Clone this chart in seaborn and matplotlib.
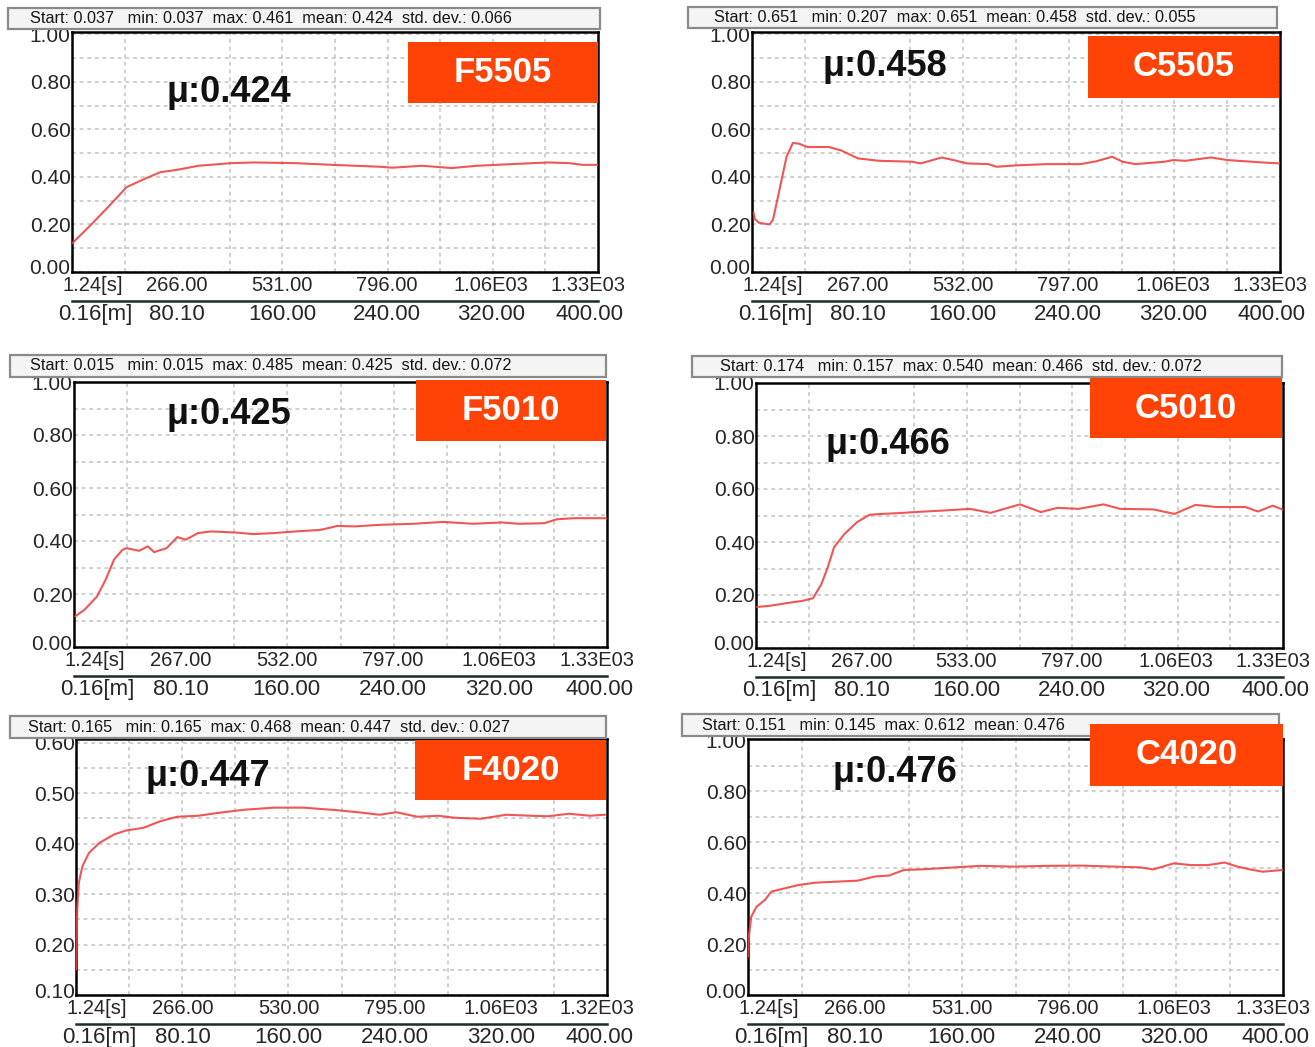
import numpy as np
import pandas as pd
import matplotlib
matplotlib.use("Agg")
import matplotlib.pyplot as plt
import seaborn as sns
from matplotlib.patches import Rectangle
from matplotlib.transforms import ScaledTranslation

# ---- friction coefficient traces: time [s] and COF ----
f5505_t = [0, 47, 95, 138, 181, 223, 266, 319, 402, 458, 565, 671, 778, 810, 885,
           960, 1024, 1098, 1205, 1258, 1290, 1330]
f5505_mu = [0.12, 0.197, 0.28, 0.357, 0.39, 0.42, 0.43, 0.447, 0.458, 0.461, 0.458,
            0.45, 0.443, 0.439, 0.447, 0.4375, 0.447, 0.453, 0.461, 0.458, 0.451, 0.451]

c5505_t = [4, 7, 18, 44, 53, 71, 87, 103, 118, 140, 193, 224, 267, 320, 404, 425, 478,
           510, 542, 595, 616, 669, 743, 828, 870, 907, 934, 965, 1039, 1061, 1092,
           1156, 1198, 1251, 1294, 1330]
c5505_mu = [0.25, 0.223, 0.207, 0.2, 0.22, 0.36, 0.485, 0.543, 0.54, 0.526, 0.526,
            0.512, 0.478, 0.468, 0.464, 0.457, 0.482, 0.47, 0.457, 0.454, 0.443, 0.449,
            0.454, 0.454, 0.467, 0.485, 0.464, 0.454, 0.464, 0.471, 0.468, 0.482, 0.471,
            0.465, 0.46, 0.457]

f5010_t = [3, 26, 57, 79, 100, 121, 131, 163, 184, 200, 231, 258, 279, 310, 342, 405,
           447, 500, 552, 615, 658, 700, 763, 847, 921, 995, 1068, 1110, 1173, 1205,
           1247, 1330]
f5010_mu = [0.116, 0.14, 0.19, 0.254, 0.33, 0.367, 0.373, 0.363, 0.38, 0.358, 0.373,
            0.415, 0.405, 0.43, 0.436, 0.432, 0.426, 0.43, 0.436, 0.442, 0.457, 0.455,
            0.461, 0.465, 0.472, 0.465, 0.47, 0.465, 0.467, 0.482, 0.486, 0.486]

c5010_t = [2, 34, 76, 118, 144, 165, 181, 197, 223, 255, 287, 318, 360, 413, 476, 540,
           592, 666, 719, 761, 814, 877, 919, 1003, 1056, 1109, 1161, 1235, 1267, 1304,
           1330]
c5010_mu = [0.155, 0.159, 0.169, 0.178, 0.188, 0.241, 0.304, 0.38, 0.43, 0.475, 0.503,
            0.506, 0.509, 0.514, 0.519, 0.525, 0.51, 0.542, 0.513, 0.529, 0.525, 0.542,
            0.525, 0.523, 0.506, 0.54, 0.532, 0.532, 0.515, 0.537, 0.522]

f4020_t = [0, 3, 7, 16, 32, 58, 95, 126, 168, 210, 252, 305, 358, 421, 494, 568, 652,
           715, 757, 799, 852, 904, 946, 1010, 1073, 1136, 1178, 1230, 1283, 1320]
f4020_mu = [0.15, 0.269, 0.322, 0.355, 0.381, 0.401, 0.418, 0.426, 0.431, 0.444, 0.453,
            0.455, 0.461, 0.467, 0.471, 0.471, 0.466, 0.461, 0.457, 0.462, 0.453, 0.455,
            0.451, 0.449, 0.457, 0.455, 0.454, 0.459, 0.455, 0.457]

c4020_t = [0, 2, 8, 21, 42, 58, 84, 126, 168, 220, 273, 315, 351, 388, 430, 514, 577,
           661, 745, 829, 913, 976, 1007, 1059, 1101, 1143, 1185, 1217, 1248, 1280, 1330]
c4020_mu = [0.15, 0.228, 0.307, 0.346, 0.373, 0.406, 0.416, 0.432, 0.441, 0.445, 0.449,
            0.465, 0.469, 0.491, 0.493, 0.501, 0.507, 0.504, 0.507, 0.508, 0.504, 0.501,
            0.493, 0.517, 0.51, 0.51, 0.52, 0.504, 0.493, 0.484, 0.491]

# ---- labels ----
sample_names = ["F5505", "C5505", "F5010", "C5010", "F4020", "C4020"]
mean_labels = ["μ:0.424", "μ:0.458", "μ:0.425", "μ:0.466", "μ:0.447", "μ:0.476"]
stat_lines = [
    "Start: 0.037   min: 0.037  max: 0.461  mean: 0.424  std. dev.: 0.066",
    "Start: 0.651   min: 0.207  max: 0.651  mean: 0.458  std. dev.: 0.055",
    "Start: 0.015   min: 0.015  max: 0.485  mean: 0.425  std. dev.: 0.072",
    "Start: 0.174   min: 0.157  max: 0.540  mean: 0.466  std. dev.: 0.072",
    "Start: 0.165   min: 0.165  max: 0.468  mean: 0.447  std. dev.: 0.027",
    "Start: 0.151   min: 0.145  max: 0.612  mean: 0.476",
]
time_ticks = [1.24, 266, 531, 796, 1060, 1330]
time_labels = [
    ["1.24[s]", "266.00", "531.00", "796.00", "1.06E03", "1.33E03"],
    ["1.24[s]", "267.00", "532.00", "797.00", "1.06E03", "1.33E03"],
    ["1.24[s]", "267.00", "532.00", "797.00", "1.06E03", "1.33E03"],
    ["1.24[s]", "267.00", "533.00", "797.00", "1.06E03", "1.33E03"],
    ["1.24[s]", "266.00", "530.00", "795.00", "1.06E03", "1.32E03"],
    ["1.24[s]", "266.00", "531.00", "796.00", "1.06E03", "1.33E03"],
]
dist_labels = ["0.16[m]", "80.10", "160.00", "240.00", "320.00", "400.00"]
time_max = [1330, 1330, 1330, 1330, 1325, 1330]

series = [(f5505_t, f5505_mu), (c5505_t, c5505_mu), (f5010_t, f5010_mu),
          (c5010_t, c5010_mu), (f4020_t, f4020_mu), (c4020_t, c4020_mu)]

sns.set_style("white")
plt.rcParams["font.family"] = ["Liberation Sans", "DejaVu Sans"]

W, H = 1315, 1047
fig = plt.figure(figsize=(W / 100, H / 100), dpi=100)
fig.patch.set_facecolor("white")


def frect(x0, y0, x1, y1):
    return [x0 / W, 1 - y1 / H, (x1 - x0) / W, (y1 - y0) / H]


# layout in pixels
frames = [(72, 32, 598, 272), (752, 32, 1280, 272), (74, 382, 607, 647),
          (756, 383, 1283, 648), (76, 739, 607, 995), (748, 739, 1283, 995)]
ylims = [(0, 1.01), (0, 1.01), (0, 1.0), (0, 1.0), (0.1, 0.607), (0, 1.005)]
headers = [(8, 8, 600, 29), (688, 7, 1277, 28), (10, 355, 606, 377),
           (692, 356, 1282, 377), (10, 716, 606, 738), (682, 714, 1279, 736)]
header_text_x = [30, 714, 30, 720, 28, 702]
tags = [(408, 42, 598, 103), (1088, 36, 1279, 98), (416, 380, 606, 441),
        (1090, 378, 1282, 438), (415, 740, 606, 800), (1090, 724, 1283, 786)]
mu_pos = [(229, 92), (885, 67), (229, 415), (888, 445), (208, 777), (895, 773)]

grid_kw = dict(color="#c2c2c2", linestyle=(0, (2.5, 2.5)), linewidth=1.1)


def shift_label(lbl, dx_px, dy_px=0):
    lbl.set_transform(lbl.get_transform() +
                      ScaledTranslation(dx_px / 100, dy_px / 100, fig.dpi_scale_trans))


for i in range(6):
    t, mu = series[i]
    # header bar with statistics
    hx0, hy0, hx1, hy1 = headers[i]
    fig.patches.append(Rectangle((hx0 / W, 1 - hy1 / H), (hx1 - hx0) / W, (hy1 - hy0) / H,
                                 transform=fig.transFigure, facecolor="#f4f4f4",
                                 edgecolor="#8a8a8a", linewidth=1.6, zorder=0))
    fig.text(header_text_x[i] / W, 1 - (hy0 + hy1) / 2 / H, stat_lines[i],
             fontsize=11.7, ha="left", va="center", color="#151515")

    ax = fig.add_axes(frect(*frames[i]))
    df = pd.DataFrame({"time": t, "cof": mu})
    sns.lineplot(data=df, x="time", y="cof", ax=ax, color="#ef4444",
                 linewidth=1.5, alpha=0.9, zorder=3)
    ax.set_xlim(0, time_max[i])
    ax.set_ylim(*ylims[i])
    ax.set_xlabel("")
    ax.set_ylabel("")

    # grid
    ax.set_xticks(np.linspace(0, time_max[i], 11), minor=True)
    if i == 4:
        ax.set_yticks(np.arange(0.1, 0.61, 0.1))
        ax.set_yticklabels([f"{v:.2f}" for v in np.arange(0.1, 0.61, 0.1)])
        ax.set_yticks(np.arange(0.1, 0.601, 0.05), minor=True)
    else:
        ax.set_yticks(np.arange(0, 1.01, 0.2))
        ax.set_yticklabels([f"{v:.2f}" for v in np.arange(0, 1.01, 0.2)])
        ax.set_yticks(np.arange(0, 1.001, 0.1), minor=True)
    ax.grid(which="minor", **grid_kw)
    ax.grid(which="major", axis="y", **grid_kw)
    ax.set_axisbelow(True)

    ax.set_xticks(time_ticks[:5] + [time_max[i]])
    ax.set_xticklabels(time_labels[i])
    ax.tick_params(axis="both", which="both", length=0)
    ax.tick_params(axis="x", labelsize=14.5, pad=3)
    ax.tick_params(axis="y", labelsize=15, pad=1)
    xl = ax.get_xticklabels()
    shift_label(xl[0], 20)
    shift_label(xl[-1], -10)
    yl = ax.get_yticklabels()
    shift_label(yl[0], 0, 5)
    for s in ax.spines.values():
        s.set_visible(True)
        s.set_color("black")
        s.set_linewidth(1.8)

    # distance axis underneath
    fh = frames[i][3] - frames[i][1]
    sec = ax.secondary_xaxis(-29 / fh)
    sec.set_xticks(time_ticks[:5] + [time_max[i]])
    sec.set_xticklabels(dist_labels)
    sec.tick_params(length=0, labelsize=16, pad=2)
    sec.spines["bottom"].set_color("#1c2b2b")
    sec.spines["bottom"].set_linewidth(1.8)
    sl = sec.get_xticklabels()
    shift_label(sl[0], 23)
    shift_label(sl[-1], -8)

    # mean friction value
    mx, my = mu_pos[i]
    fig.text(mx / W, 1 - my / H, mean_labels[i], fontsize=26, fontweight="bold",
             ha="center", va="center", color="#111111")

    # sample tag
    tx0, ty0, tx1, ty1 = tags[i]
    fig.patches.append(Rectangle((tx0 / W, 1 - ty1 / H), (tx1 - tx0) / W, (ty1 - ty0) / H,
                                 transform=fig.transFigure, facecolor="#ff4206",
                                 edgecolor="none", zorder=5))
    fig.text((tx0 + tx1) / 2 / W, 1 - (ty0 + ty1) / 2 / H, sample_names[i],
             fontsize=25, fontweight="bold", ha="center", va="center",
             color="white", zorder=6)

fig.savefig("out.png", dpi=100, facecolor="white")
